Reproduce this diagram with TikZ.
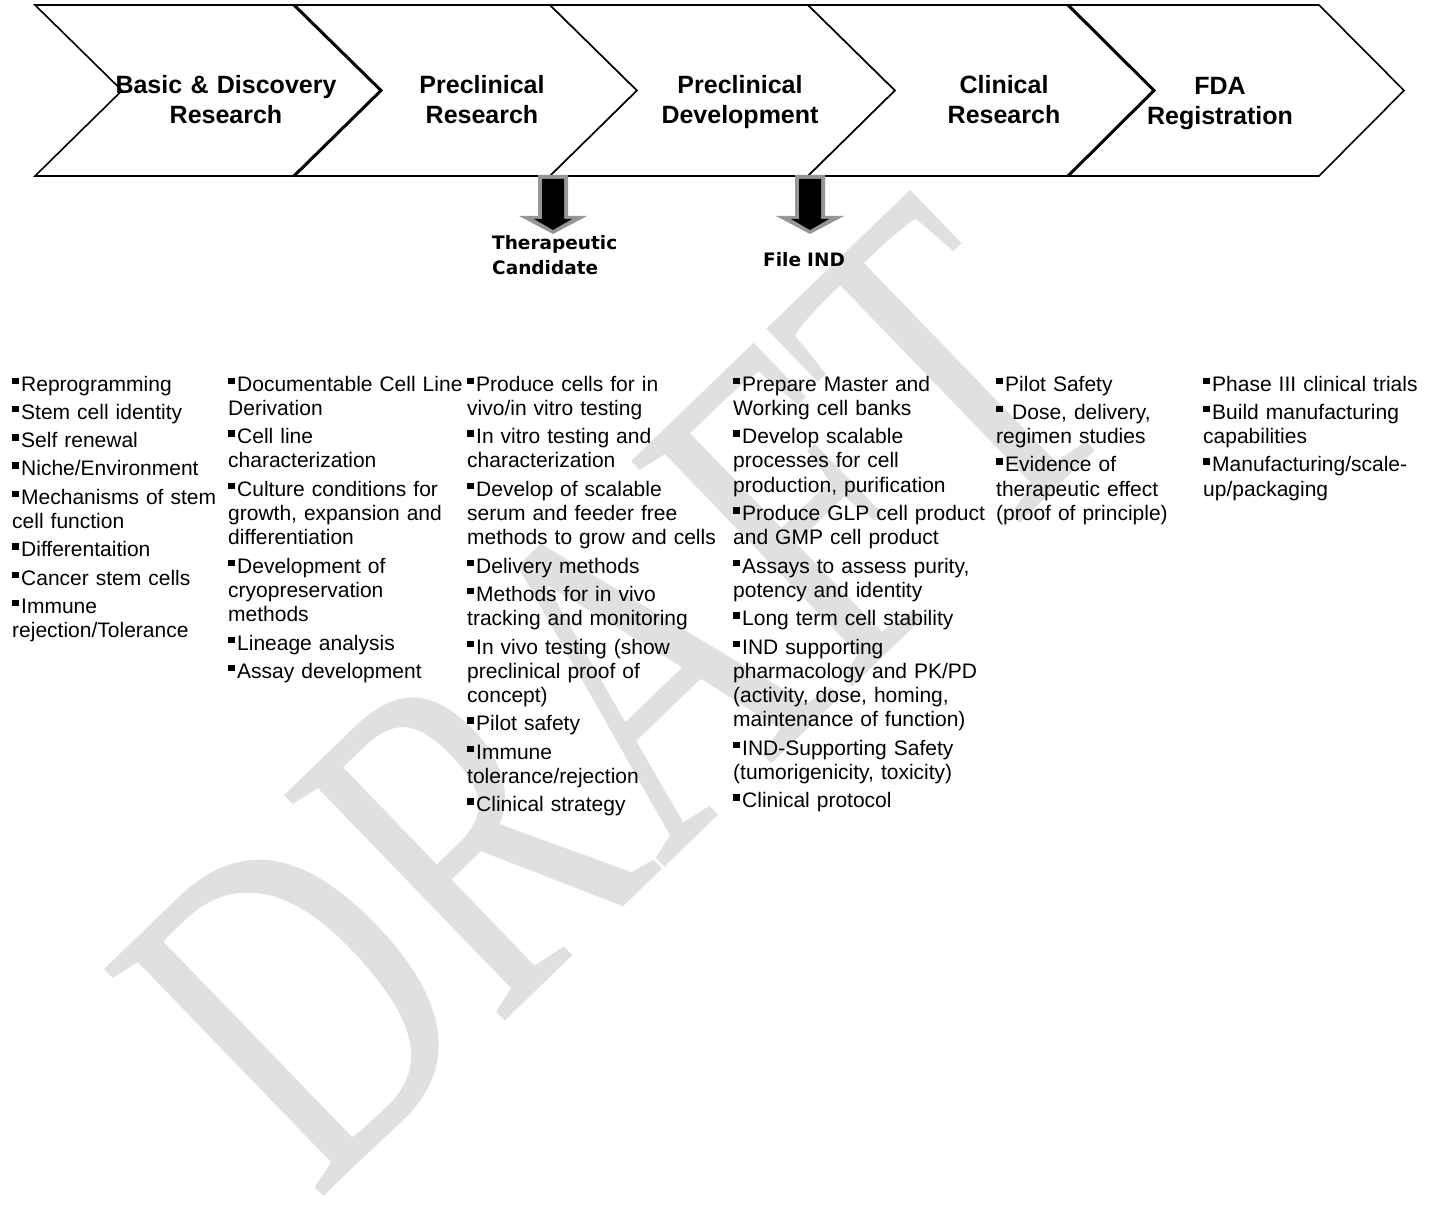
\documentclass[tikz,border=0pt]{standalone}
\usepackage{fontspec}
\setmainfont{Liberation Sans}
\newfontfamily\wmfont{Liberation Serif}
\newfontfamily\dvfont{DejaVu Sans}
\definecolor{wmgray}{RGB}{224,224,224}
\definecolor{arrgray}{RGB}{150,150,150}
\newcommand{\bul}{\rule[7pt]{6.5pt}{6.5pt}\hspace{2.5pt}}
\tikzset{
  chev/.style={draw=black, line width=1.6pt, fill=white, line join=miter},
  head/.style={font=\bfseries\fontsize{25}{30}\selectfont, text width=260pt, align=center, anchor=base, inner sep=0pt},
  col/.style={font=\fontsize{21}{24.3}\selectfont, text width=300pt, align=left, anchor=base west, inner sep=0pt},
  mile/.style={font=\dvfont\bfseries\fontsize{18.5}{25}\selectfont, text width=200pt, align=left, anchor=base west, inner sep=0pt},
  wm/.style={font=\wmfont\fontsize{482}{482}\selectfont, text=wmgray, inner sep=0pt, anchor=base west}
}
\begin{document}
\begin{tikzpicture}[x=1pt,y=-1pt]
\useasboundingbox (0,0) rectangle (1429,1206);
\fill[white] (0,0) rectangle (1429,1206);
% watermark
\node[wm, rotate=44, xscale=0.72] (wmark) at (316,1204) {DRAFT};
% chevrons
\draw[chev] (35,5) -- (293,5) -- (380,90.5) -- (293,176) -- (35,176) -- (122,90.5) -- cycle;
\draw[chev] (295,5) -- (550,5) -- (637,90.5) -- (550,176) -- (295,176) -- (382,90.5) -- cycle;
\draw[chev] (550,5) -- (808,5) -- (895,90.5) -- (808,176) -- (550,176) -- (637,90.5) -- cycle;
\draw[chev] (808,5) -- (1067,5) -- (1153,90.5) -- (1067,176) -- (808,176) -- (895,90.5) -- cycle;
\draw[chev] (1069,5) -- (1319,5) -- (1404,90.5) -- (1319,176) -- (1069,176) -- (1155,90.5) -- cycle;
% chevron labels
\node[head] (h1) at (226,94) {Basic \& Discovery\\Research};
\node[head] (h2) at (482,94) {Preclinical\\Research};
\node[head] (h3) at (740,94) {Preclinical\\Development};
\node[head] (h4) at (1004,94) {Clinical\\Research};
\node[head] (h5) at (1220,95) {FDA\\Registration};
% milestone arrows
\foreach \c in {553,810}{
  \fill[arrgray] (\c-15,175) -- (\c+15,175) -- (\c+15,216) -- (\c+34,216) -- (\c,234) -- (\c-34,216) -- (\c-15,216) -- cycle;
  \fill[black] (\c-11,179) -- (\c+11,179) -- (\c+11,219) -- (\c+19,219) -- (\c,230) -- (\c-19,219) -- (\c-11,219) -- cycle;
}
\node[mile] (m1) at (492,250) {Therapeutic\\Candidate};
\node[mile] (m2) at (763,266) {File IND};
% columns
\node[col] (c1) at (12,391) {\bul Reprogramming\\[4pt]
\bul Stem cell identity\\[4pt]
\bul Self renewal\\[4pt]
\bul Niche/Environment\\[4pt]
\bul Mechanisms of stem\\ cell function\\[4pt]
\bul Differentaition\\[4pt]
\bul Cancer stem cells\\[4pt]
\bul Immune\\ rejection/Tolerance};
\node[col] (c2) at (228,391) {\bul Documentable Cell Line\\ Derivation\\[4pt]
\bul Cell line\\ characterization\\[4pt]
\bul Culture conditions for\\ growth, expansion and\\ differentiation\\[4pt]
\bul Development of\\ cryopreservation\\ methods\\[4pt]
\bul Lineage analysis\\[4pt]
\bul Assay development};
\node[col] (c3) at (467,391) {\bul Produce cells for in\\ vivo/in vitro testing\\[4pt]
\bul In vitro testing and\\ characterization\\[4pt]
\bul Develop of scalable\\ serum and feeder free\\ methods to grow and cells\\[4pt]
\bul Delivery methods\\[4pt]
\bul Methods for in vivo\\ tracking and monitoring\\[4pt]
\bul In vivo testing (show\\ preclinical proof of\\ concept)\\[4pt]
\bul Pilot safety\\[4pt]
\bul Immune\\ tolerance/rejection\\[4pt]
\bul Clinical strategy};
\node[col] (c4) at (733,391) {\bul Prepare Master and\\ Working cell banks\\[4pt]
\bul Develop scalable\\ processes for cell\\ production, purification\\[4pt]
\bul Produce GLP cell product\\ and GMP cell product\\[4pt]
\bul Assays to assess purity,\\ potency and identity\\[4pt]
\bul Long term cell stability\\[4pt]
\bul IND supporting\\ pharmacology and PK/PD\\ (activity, dose, homing,\\ maintenance of function)\\[4pt]
\bul IND-Supporting Safety\\ (tumorigenicity, toxicity)\\[4pt]
\bul Clinical protocol};
\node[col] (c5) at (996,391) {\bul Pilot Safety\\[4pt]
\bul\ Dose, delivery,\\ regimen studies\\[4pt]
\bul Evidence of\\ therapeutic effect\\ (proof of principle)};
\node[col] (c6) at (1203,391) {\bul Phase III clinical trials\\[4pt]
\bul Build manufacturing\\ capabilities\\[4pt]
\bul Manufacturing/scale-\\ up/packaging};
\end{tikzpicture}
\end{document}
